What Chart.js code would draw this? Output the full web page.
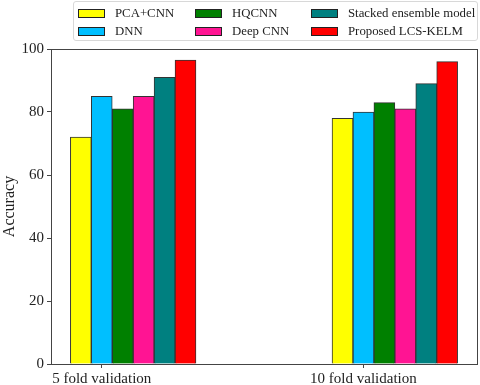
<!DOCTYPE html>
<html lang="en">

<head>
  <meta charset="UTF-8">
  <title>Accuracy comparison</title>
  <style>
    body { margin: 0; background: #fff; }
    .wrap { position: relative; width: 480px; height: 385px; }
    #legend {
      position: absolute; left: 73px; top: 1px; width: 405px; height: 40px;
      border: 1px solid #d8d8d8; border-radius: 3px; box-sizing: border-box;
      display: grid; grid-template-columns: 117px 116px 165px; grid-template-rows: 18px 18px;
      grid-auto-flow: column; padding: 2px 0 0 4px;
      font-family: "Liberation Serif", serif; font-size: 12.8px; color: #222;
    }
    #legend div { display: flex; align-items: center; white-space: nowrap; }
    #legend span.sw { flex: 0 0 auto; width: 25px; height: 7px; border: 1px solid #222; margin-right: 10px; }
  </style>
</head>

<body>
  <div class="wrap">
    <canvas id="myChart" width="480" height="385"></canvas>
    <div id="legend"></div>
  </div>
  <script src="https://cdn.jsdelivr.net/npm/chart.js"></script>
  <script>
    // data
    const categories = ['5 fold validation', '10 fold validation'];
    const models = ['PCA+CNN', 'DNN', 'HQCNN', 'Deep CNN', 'Stacked ensemble model', 'Proposed LCS-KELM'];
    const pcaCnn   = [72, 78];
    const dnn      = [85, 80];
    const hqcnn    = [81, 83];
    const deepCnn  = [85, 81];
    const stacked  = [91, 89];
    const proposed = [96.5, 96];
    const yTicks = [0, 20, 40, 60, 80, 100];

    const series = [pcaCnn, dnn, hqcnn, deepCnn, stacked, proposed];
    const colors = ['#ffff00', '#00bfff', '#008000', '#ff1493', '#008080', '#ff0000'];

    // bars sit at group + i*w, ticks at group + w (like plt.bar(x + i*w))
    const w = 0.08;
    const tickPos = categories.map((c, g) => g + w);
    const lo = -w / 2, hi = (categories.length - 1) + (models.length - 1) * w + w / 2;
    const pad = (hi - lo) * 0.05;

    const datasets = models.map((m, i) => ({
      label: m,
      data: series[i].map((v, g) => ({ x: g + i * w, y: v })),
      backgroundColor: colors[i],
      borderColor: '#333',
      borderWidth: 1,
      grouped: false,
      barPercentage: 1,
      categoryPercentage: 1
    }));

    const frame = {
      id: 'frame',
      afterDraw(chart) {
        const a = chart.chartArea, c = chart.ctx;
        c.save();
        c.strokeStyle = '#444';
        c.lineWidth = 1;
        c.strokeRect(Math.round(a.left) + 0.5, Math.round(a.top) + 0.5,
          Math.round(a.right - a.left), Math.round(a.bottom - a.top));
        c.restore();
      }
    };

    Chart.defaults.font.family = '"Liberation Serif", serif';
    Chart.defaults.color = '#222';

    const ctx = document.getElementById('myChart');
    const mychart = new Chart(ctx, {
      type: 'bar',
      data: { datasets: datasets },
      options: {
        responsive: false,
        animation: false,
        layout: { padding: { top: 49, right: 3, left: 0, bottom: 0 } },
        plugins: { legend: { display: false }, tooltip: { enabled: false } },
        scales: {
          x: {
            type: 'linear',
            offset: false,
            min: lo - pad,
            max: hi + pad,
            afterBuildTicks: (s) => { s.ticks = tickPos.map(v => ({ value: v })); },
            afterFit: (s) => { s.height = 21; },
            ticks: {
              autoSkip: false, maxRotation: 0, padding: 2,
              font: { size: 15 },
              callback: (v, i) => categories[i]
            },
            grid: { offset: false, drawOnChartArea: false, tickLength: 4, color: '#444' },
            border: { color: '#444' }
          },
          y: {
            min: 0,
            max: 100,
            afterBuildTicks: (s) => { s.ticks = yTicks.map(v => ({ value: v })); },
            afterFit: (s) => { s.width = 51; },
            ticks: { font: { size: 15 }, padding: 3 },
            grid: { drawOnChartArea: false, tickLength: 4, color: '#444' },
            border: { color: '#444' },
            title: { display: true, text: 'Accuracy', font: { size: 16 }, padding: 0 }
          }
        }
      },
      plugins: [frame]
    });

    // legend laid out column by column like the original
    const legend = document.getElementById('legend');
    datasets.forEach(d => {
      const item = document.createElement('div');
      item.innerHTML = '<span class="sw" style="background:' + d.backgroundColor + '"></span>' + d.label;
      legend.appendChild(item);
    });
  </script>
</body>

</html>
